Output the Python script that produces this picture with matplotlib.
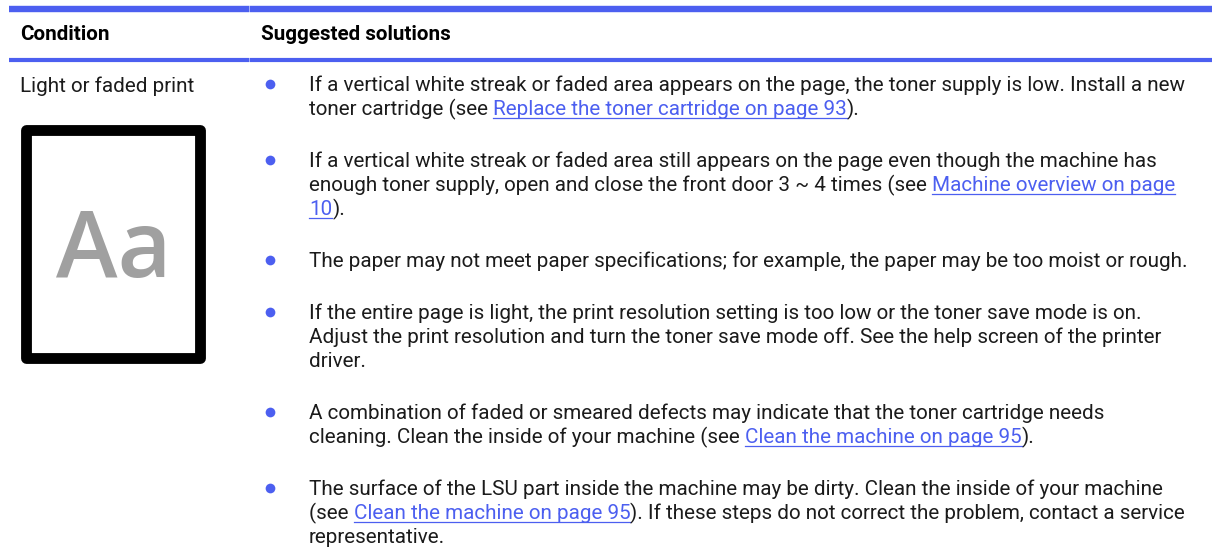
import re

import matplotlib
matplotlib.use("Agg")
import matplotlib.pyplot as plt
from matplotlib.patches import Rectangle

W, H = 1212, 557
BLUE = "#4c5ff0"
INK = "#1b1b1b"
FONT = "Roboto"
SIZE = 14.9

headers = ["Condition", "Suggested solutions"]
condition = "Light or faded print"
icon_text = "Aa"

# links are written in [brackets]
solutions = [
    ["If a vertical white streak or faded area appears on the page, the toner supply is low. Install a new",
     "toner cartridge (see [Replace the toner cartridge on page 93])."],
    ["If a vertical white streak or faded area still appears on the page even though the machine has",
     "enough toner supply, open and close the front door 3 ~ 4 times (see [Machine overview on page]",
     "[10])."],
    ["The paper may not meet paper specifications; for example, the paper may be too moist or rough."],
    ["If the entire page is light, the print resolution setting is too low or the toner save mode is on.",
     "Adjust the print resolution and turn the toner save mode off. See the help screen of the printer",
     "driver."],
    ["A combination of faded or smeared defects may indicate that the toner cartridge needs",
     "cleaning. Clean the inside of your machine (see [Clean the machine on page 95])."],
    ["The surface of the LSU part inside the machine may be dirty. Clean the inside of your machine",
     "(see [Clean the machine on page 95]). If these steps do not correct the problem, contact a service",
     "representative."],
]

fig = plt.figure(figsize=(W / 100, H / 100), dpi=100)
ax = fig.add_axes([0, 0, 1, 1])
ax.set_xlim(0, W)
ax.set_ylim(H, 0)
ax.axis("off")
renderer = fig.canvas.get_renderer()


def width(s):
    # measure with a trailing bar so trailing spaces count
    t = ax.text(0, 0, s + "|", fontsize=SIZE, family=FONT)
    w = t.get_window_extent(renderer).width
    t.remove()
    t = ax.text(0, 0, "|", fontsize=SIZE, family=FONT)
    w -= t.get_window_extent(renderer).width
    t.remove()
    return w


def draw_line(x, y, line):
    prefix = ""
    for part in re.split(r"(\[[^\]]*\])", line):
        if not part:
            continue
        link = part.startswith("[")
        txt = part.strip("[]")
        x0 = x + width(prefix)
        ax.text(x0, y, txt, fontsize=SIZE, family=FONT, va="baseline",
                color=BLUE if link else INK)
        if link:
            x1 = x + width(prefix + txt)
            ax.plot([x0, x1], [y + 3, y + 3], color=BLUE, lw=0.9)
        prefix += txt


# table rules
ax.plot([9, W], [8.5, 8.5], color=BLUE, lw=4.6, solid_capstyle="butt")
ax.plot([9, W], [60, 60], color=BLUE, lw=3.0, solid_capstyle="butt")
ax.plot([249, 249], [5, 63], color="white", lw=0.6, alpha=0.6)

# header
ax.text(20, 40.5, headers[0], fontsize=SIZE, family=FONT, fontweight="bold",
        va="baseline", color="black")
ax.text(261, 40.5, headers[1], fontsize=SIZE, family=FONT, fontweight="bold",
        va="baseline", color="black")

# condition column
ax.text(20, 91.5, condition, fontsize=SIZE, family=FONT, va="baseline", color=INK)
ax.add_patch(Rectangle((25.5, 130), 174.5, 228, fill=False, ec="black",
                       lw=7.8, joinstyle="round"))
ax.text(113.5, 277, icon_text, fontsize=67, family="Open Sans", fontweight="semibold",
        ha="center", va="baseline", color="#a0a0a0")

# solutions column
base = 91
for lines in solutions:
    ax.plot(270, base - 7, "o", ms=7, color=BLUE, mec="none")
    for line in lines:
        draw_line(309, base, line)
        base += 24
    base += 28

fig.savefig("out.png", dpi=100, facecolor="white")
